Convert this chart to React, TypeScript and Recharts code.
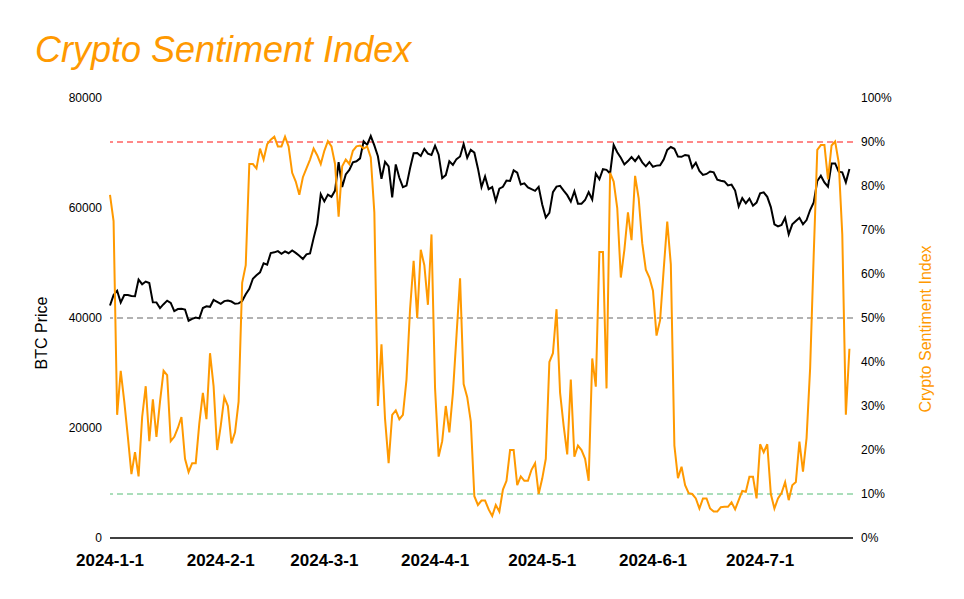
import { LineChart, Line, XAxis, YAxis, ReferenceLine } from "recharts";

// daily BTC close, 2024-1-1 .. 2024-7-26 (index = day)
const btcPrice = [
  42265, 44168, 44958, 42821, 44179, 44162, 43989, 43943, 46970, 46139,
  46628, 46368, 42853, 42842, 41796, 42511, 43154, 42742, 41262, 41618,
  41665, 41545, 39507, 39845, 40077, 39934, 41816, 42120, 42035, 43288,
  42952, 42582, 43075, 43185, 42992, 42583, 42658, 43084, 44318, 45301,
  47147, 47771, 48293, 49958, 49699, 51811, 51938, 52160, 51663, 52123,
  51779, 52284, 51839, 51304, 50731, 51571, 51733, 54522, 57085, 62504,
  61198, 62440, 62029, 63167, 68330, 63801, 66106, 66925, 68300, 68498,
  69019, 72123, 71482, 73083, 71397, 69403, 65315, 68390, 67548, 61912,
  67913, 65491, 63779, 64062, 67234, 69958, 69987, 69456, 70744, 69892,
  69646, 71333, 69702, 65446, 65981, 68508, 67838, 68896, 69362, 71631,
  69139, 70587, 70061, 67195, 63821, 65738, 63426, 63811, 61276, 63512,
  63844, 64994, 64927, 66837, 66408, 64276, 64481, 63755, 63419, 63113,
  63841, 60636, 58254, 59123, 62889, 63891, 64031, 63161, 62334, 61187,
  63049, 60793, 60793, 61448, 62901, 61552, 66267, 65231, 67051, 66940,
  66278, 71448, 70136, 69122, 67929, 68526, 69265, 68518, 69394, 68296,
  67578, 68364, 67491, 67706, 67751, 68804, 70567, 71082, 70757, 69342,
  69305, 69648, 69512, 67332, 68241, 66756, 66012, 66191, 66639, 66491,
  65140, 64960, 64828, 64096, 64252, 63180, 60277, 61805, 60864, 61706,
  60427, 60986, 62678, 62852, 62029, 60173, 57041, 56663, 56900, 58230,
  55200, 57030, 57630, 58230, 57030, 57810, 59630, 61030, 64900, 65870,
  64660, 63870, 68110, 68110, 66600, 66480, 64660, 67080,
];

// sentiment index in %
const sentiment = [
  78, 72, 28, 38, 31, 23, 14.5, 19.5, 14, 27.5,
  34.5, 22, 31.5, 23, 31, 38, 37, 22, 23, 25,
  27.5, 18, 15, 17, 17, 26, 33, 27, 42, 34.5,
  20, 25.5, 32, 30, 21.5, 24, 31, 58, 62, 85,
  85, 84, 88.5, 86, 89.5, 90.5, 91.2, 89, 89, 91.2,
  89, 83, 81, 78, 82, 84, 86, 88.5, 87, 85,
  88, 90.2, 89, 85, 73, 84.5, 86, 85, 88, 89,
  89.2, 88.5, 89, 86.5, 74, 30, 44, 27, 17, 28,
  29, 27, 28, 36, 52, 63, 50, 65.5, 62, 53,
  69, 34, 18.5, 22, 30, 24, 33, 46, 59, 35,
  32, 26.5, 9.5, 7.5, 8.5, 8.5, 6.5, 5, 7.5, 6,
  11, 13, 20, 20, 12, 14, 13, 13, 15.5, 17,
  10, 13.5, 18, 40, 42, 52, 33, 25.5, 19, 36,
  18.5, 21, 20, 18, 13, 40.8, 34.4, 65, 65, 34,
  83, 81, 75, 59.2, 65.5, 74, 67.7, 82.3, 77.2, 67,
  61, 59.2, 56.2, 46, 49.5, 61, 71.9, 62.2, 21, 13.6,
  16.2, 12, 10.2, 10, 9, 6.7, 9, 9, 6.7, 6,
  6, 7, 7.1, 7.1, 8.1, 6.5, 8.6, 10.7, 10.5, 13.9,
  13.9, 9, 21.3, 19.5, 21.3, 10, 6.7, 9, 10.2, 12.7,
  8.6, 12, 12.7, 21.9, 15.1, 22.7, 38.6, 64.3, 88.2, 89.3,
  89.3, 81.5, 89.2, 90.1, 85.3, 69, 28, 43,
];

const monthTicks = [0, 31, 60, 91, 121, 152, 182];
const monthLabels = ["2024-1-1", "2024-2-1", "2024-3-1", "2024-4-1", "2024-5-1", "2024-6-1", "2024-7-1"];
const priceTicks = [0, 20000, 40000, 60000, 80000];
const sentimentTicks = [0, 10, 20, 30, 40, 50, 60, 70, 80, 90, 100];
const levels = [
  { y: 90, color: "#ff6262" },
  { y: 50, color: "#999999" },
  { y: 10, color: "#8fd4a4" },
];

const ORANGE = "#ff9900";
const FONT = "'Liberation Sans', Arial, sans-serif";

const data = btcPrice.map((p, i) => ({ day: i, price: p, sentiment: sentiment[i] }));

export default function App() {
  return (
    <div style={{ position: "absolute", left: 0, top: 0, width: 964, height: 599, background: "#fff", fontFamily: FONT }}>
      <LineChart width={964} height={599} data={data} margin={{ top: 98, right: 51, bottom: 31, left: 50 }}>
        <XAxis
          dataKey="day"
          type="number"
          domain={[0, 208]}
          ticks={monthTicks}
          tickFormatter={(v) => monthLabels[monthTicks.indexOf(v)]}
          tickLine={false}
          tickMargin={10}
          axisLine={{ stroke: "#000", strokeWidth: 1.5 }}
          tick={{ fontSize: 17, fontWeight: "bold", fill: "#000", fontFamily: FONT }}
          height={30}
        />
        <YAxis
          yAxisId="left"
          domain={[0, 80000]}
          ticks={priceTicks}
          axisLine={false}
          tickLine={false}
          width={60}
          tick={{ fontSize: 12, fill: "#000", fontFamily: FONT }}
        />
        <YAxis
          yAxisId="right"
          orientation="right"
          domain={[0, 100]}
          ticks={sentimentTicks}
          tickFormatter={(v) => `${v}%`}
          axisLine={false}
          tickLine={false}
          width={60}
          tick={{ fontSize: 12, fill: "#000", fontFamily: FONT }}
        />
        {levels.map((l) => (
          <ReferenceLine key={l.y} yAxisId="right" y={l.y} stroke={l.color} strokeWidth={1.5} strokeDasharray="6 4" />
        ))}
        <Line yAxisId="left" type="linear" dataKey="price" stroke="#000" strokeWidth={2} dot={false} isAnimationActive={false} />
        <Line yAxisId="right" type="linear" dataKey="sentiment" stroke={ORANGE} strokeWidth={2} dot={false} isAnimationActive={false} />
      </LineChart>
      <svg width={964} height={599} style={{ position: "absolute", left: 0, top: 0, pointerEvents: "none" }}>
        <text x={35} y={62} fontSize={36} fontStyle="italic" fill={ORANGE} fontFamily={FONT}>
          Crypto Sentiment Index
        </text>
        <text x={47} y={333} fontSize={16} fill="#000" textAnchor="middle" fontFamily={FONT} transform="rotate(-90 47 333)">
          BTC Price
        </text>
        <text x={931} y={329} fontSize={16} fill={ORANGE} textAnchor="middle" fontFamily={FONT} transform="rotate(-90 931 329)">
          Crypto Sentiment Index
        </text>
      </svg>
    </div>
  );
}
